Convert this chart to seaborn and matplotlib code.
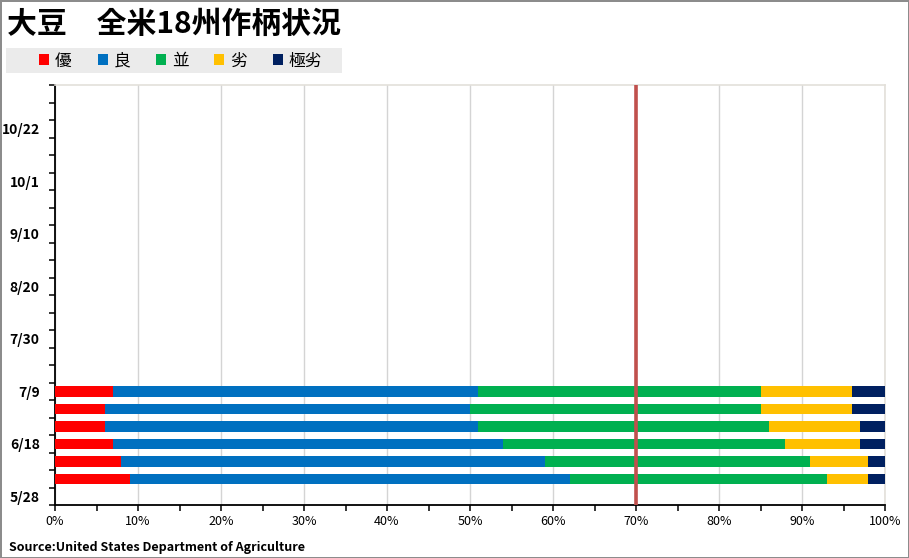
import numpy as np
import pandas as pd
import matplotlib
matplotlib.use('Agg')
import matplotlib.pyplot as plt
from matplotlib.patches import Patch, Rectangle
from matplotlib.ticker import MultipleLocator, FixedLocator
import seaborn as sns

sns.set_style('white')
plt.rcParams['font.family'] = ['Noto Sans CJK JP', 'DejaVu Sans']
plt.rcParams['text.color'] = 'black'
plt.rcParams['xtick.color'] = 'black'
plt.rcParams['ytick.color'] = 'black'

# weekly survey dates on the axis (bottom to top)
all_dates = ['5/28', '6/4', '6/11', '6/18', '6/25', '7/2', '7/9', '7/16',
             '7/23', '7/30', '8/6', '8/13', '8/20', '8/27', '9/3', '9/10',
             '9/17', '9/24', '10/1', '10/8', '10/15', '10/22', '10/29', '11/5']
label_dates = ['5/28', '6/18', '7/9', '7/30', '8/20', '9/10', '10/1', '10/22']

# condition shares (%) for the weeks reported so far
dates = ['6/4', '6/11', '6/18', '6/25', '7/2', '7/9']
excellent = [9, 8, 7, 6, 6, 7]
good = [53, 51, 47, 45, 44, 44]
fair = [31, 32, 34, 35, 35, 34]
poor = [5, 7, 9, 11, 11, 11]
very_poor = [2, 2, 3, 3, 4, 4]

categories = ['優', '良', '並', '劣', '極劣']
colors = ['#FF0000', '#0070C0', '#00B050', '#FFC000', '#002060']
ref_line = 70

df = pd.DataFrame({'date': dates, '優': excellent, '良': good, '並': fair,
                   '劣': poor, '極劣': very_poor})
cum = df[categories].cumsum(axis=1)
cum['date'] = df['date']

fig = plt.figure(figsize=(9.09, 5.58), dpi=100)
fig.patch.set_edgecolor('#8C8C8C')
fig.patch.set_linewidth(2)
ax = fig.add_axes([55 / 909, 1 - 505 / 558, 830 / 909, 420 / 558])

order = all_dates[::-1]
# stacked bars: draw the cumulative totals from the longest down
for cat, col in zip(categories[::-1], colors[::-1]):
    sns.barplot(data=cum, x=cat, y='date', order=order, orient='h',
                color=col, width=0.6, errorbar=None, saturation=1,
                linewidth=0, ax=ax, zorder=3)

ax.axvline(ref_line, color='#C0504D', lw=2.6, zorder=6)

ax.set_xlim(0, 100)
ax.set_ylim(len(all_dates) - 0.5, -0.5)
ax.set_xlabel('')
ax.set_ylabel('')

ax.xaxis.set_major_locator(MultipleLocator(10))
ax.xaxis.set_minor_locator(MultipleLocator(5))
ax.set_xticklabels([f'{int(v)}%' for v in ax.get_xticks()])
ax.xaxis.grid(True, which='major', color='#D4D4D4', lw=1)
ax.set_axisbelow(True)

ax.set_yticks(range(len(order)))
ax.set_yticklabels([d if d in label_dates else '' for d in order])
ax.yaxis.set_minor_locator(FixedLocator(np.arange(-0.5, len(order), 1)))

ax.tick_params(axis='x', which='both', bottom=True, direction='out',
               length=4, width=1.1, color='black', pad=3, labelsize=9,
               labelcolor='black')
ax.tick_params(axis='y', which='major', left=True, length=0, pad=11,
               labelsize=10, labelcolor='black')
ax.tick_params(axis='y', which='minor', left=True, direction='out',
               length=4, width=1.1, color='black')
for lab in ax.get_yticklabels():
    lab.set_fontweight('bold')

for s in ['left', 'bottom']:
    ax.spines[s].set_color('black')
    ax.spines[s].set_linewidth(1.3)
for s in ['top', 'right']:
    ax.spines[s].set_color('#E3E0DA')
    ax.spines[s].set_linewidth(1.2)

fig.text(7 / 909, 1 - 24 / 558, '大豆　全米18州作柄状況', fontsize=21.5,
         fontweight='bold', va='center', ha='left', color='black')

fig.patches.append(Rectangle((6 / 909, 1 - 73 / 558), 336 / 909, 25 / 558,
                             transform=fig.transFigure, facecolor='#EBEBEB',
                             edgecolor='none', zorder=0))
handles = [Patch(facecolor=c, edgecolor='none') for c in colors]
fig.legend(handles, categories, ncol=5, loc='center left',
           bbox_to_anchor=(31 / 909, 1 - 61 / 558), frameon=False,
           fontsize=12, handlelength=0.6, handleheight=0.6,
           handletextpad=0.35, columnspacing=1.55, borderpad=0,
           labelcolor='black')

fig.text(9 / 909, 1 - 547 / 558, 'Source:United States Department of Agriculture',
         fontsize=9, fontweight='bold', va='center', ha='left', color='black')

fig.savefig('out.png', dpi=100, edgecolor=fig.get_edgecolor())
